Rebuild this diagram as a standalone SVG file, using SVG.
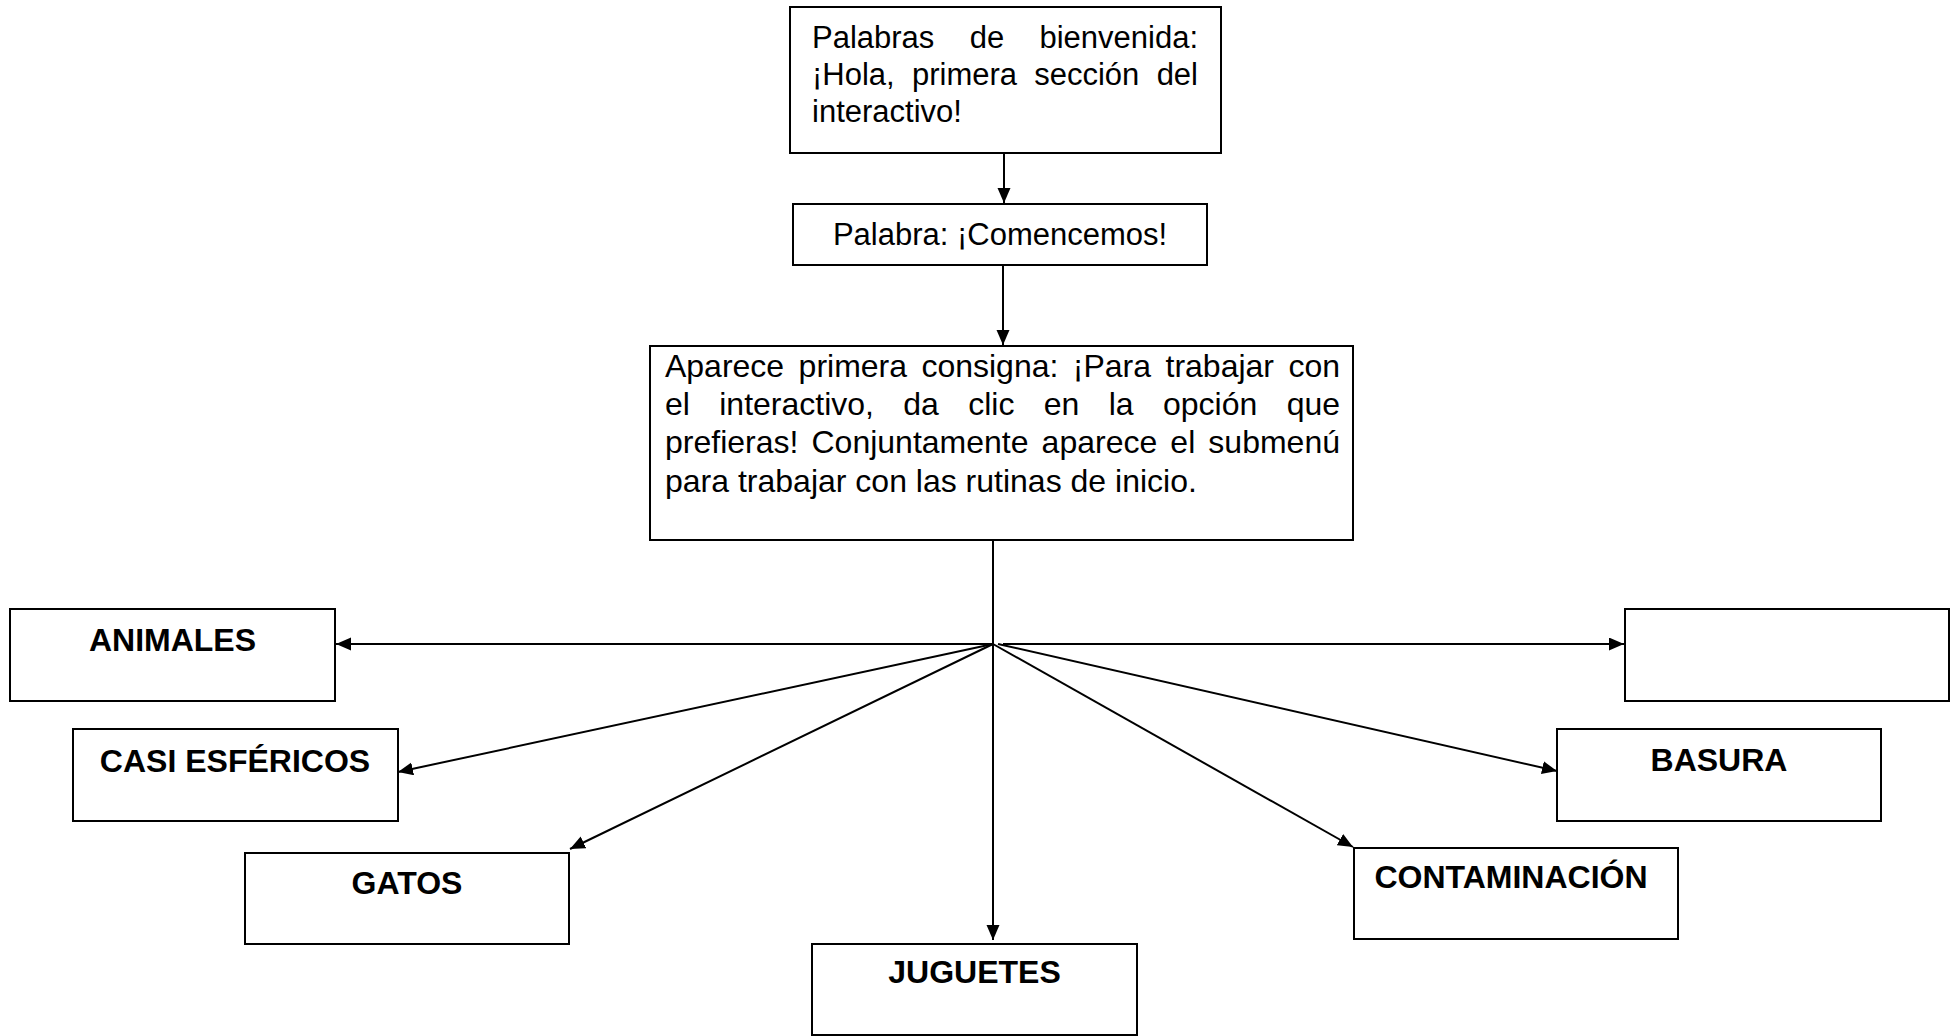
<svg xmlns="http://www.w3.org/2000/svg" width="1960" height="1036" viewBox="0 0 1960 1036">
<style>
.box{fill:#fff;stroke:#000;stroke-width:2}
.t{font-family:"Liberation Sans",Arial,sans-serif;font-size:31px;fill:#000}
.t3{font-family:"Liberation Sans",Arial,sans-serif;font-size:32px;fill:#000}
.b{font-family:"Liberation Sans",Arial,sans-serif;font-size:32px;font-weight:bold;fill:#000;text-anchor:middle}
.c{fill:none;stroke:#000;stroke-width:2}
</style>
<defs>
<marker id="ah" markerUnits="userSpaceOnUse" markerWidth="16" markerHeight="14" refX="15" refY="6.5" orient="auto">
<path d="M0,0 L15,6.5 L0,13 z" fill="#000"/>
</marker>
</defs>
<rect width="1960" height="1036" fill="#fff"/>
<g id="connectors">
<line class="c" x1="1004" y1="153" x2="1004" y2="203" marker-end="url(#ah)"/>
<line class="c" x1="1003" y1="265" x2="1003" y2="345" marker-end="url(#ah)"/>
<line class="c" x1="993" y1="540" x2="993" y2="940" marker-end="url(#ah)"/>
<line class="c" x1="993" y1="644" x2="336" y2="644" marker-end="url(#ah)"/>
<line class="c" x1="1003" y1="644" x2="1624" y2="644" marker-end="url(#ah)"/>
<line class="c" x1="993" y1="644" x2="398" y2="772" marker-end="url(#ah)"/>
<line class="c" x1="993" y1="644" x2="570" y2="849" marker-end="url(#ah)"/>
<line class="c" x1="998" y1="644" x2="1557" y2="771" marker-end="url(#ah)"/>
<line class="c" x1="993" y1="644" x2="1353" y2="847" marker-end="url(#ah)"/>
</g>
<g id="n1">
<rect class="box" x="790" y="7" width="431" height="146"/>
<text class="t" x="812" y="48" word-spacing="26.7" textLength="386" lengthAdjust="spacing">Palabras de bienvenida:</text>
<text class="t" x="812" y="85" word-spacing="8.7" textLength="386" lengthAdjust="spacing">¡Hola, primera sección del</text>
<text class="t" x="812" y="122">interactivo!</text>
</g>
<g id="n2">
<rect class="box" x="793" y="204" width="414" height="61"/>
<text class="t" x="1000" y="245" text-anchor="middle">Palabra: ¡Comencemos!</text>
</g>
<g id="n3">
<rect class="box" x="650" y="346" width="703" height="194"/>
<text class="t3" x="665" y="377" word-spacing="5.6" textLength="675" lengthAdjust="spacing">Aparece primera consigna: ¡Para trabajar con</text>
<text class="t3" x="665" y="415" word-spacing="20.5" textLength="675" lengthAdjust="spacing">el interactivo, da clic en la opción que</text>
<text class="t3" x="665" y="453" word-spacing="4.2" textLength="675" lengthAdjust="spacing">prefieras! Conjuntamente aparece el submenú</text>
<text class="t3" x="665" y="492">para trabajar con las rutinas de inicio.</text>
</g>
<g id="animales">
<rect class="box" x="10" y="609" width="325" height="92"/>
<text class="b" x="172.5" y="651">ANIMALES</text>
</g>
<g id="casi">
<rect class="box" x="73" y="729" width="325" height="92"/>
<text class="b" x="235" y="772">CASI ESFÉRICOS</text>
</g>
<g id="gatos">
<rect class="box" x="245" y="853" width="324" height="91"/>
<text class="b" x="407" y="894">GATOS</text>
</g>
<g id="juguetes">
<rect class="box" x="812" y="944" width="325" height="91"/>
<text class="b" x="974.5" y="983">JUGUETES</text>
</g>
<g id="vacio">
<rect class="box" x="1625" y="609" width="324" height="92"/>
</g>
<g id="basura">
<rect class="box" x="1557" y="729" width="324" height="92"/>
<text class="b" x="1719" y="771">BASURA</text>
</g>
<g id="contaminacion">
<rect class="box" x="1354" y="848" width="324" height="91"/>
<text class="b" x="1511" y="888">CONTAMINACIÓN</text>
</g>
</svg>
